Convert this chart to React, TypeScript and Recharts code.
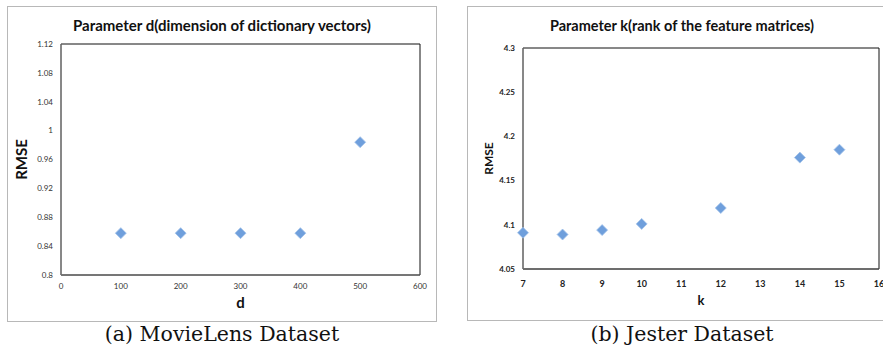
import React from "react";
import {
  ScatterChart, Scatter, XAxis, YAxis, ReferenceArea,
} from "recharts";

// ── MovieLens: parameter d ──
const dValues = [100, 200, 300, 400, 500];
const dRmse = [0.858, 0.858, 0.858, 0.858, 0.984];
const dXTicks = [0, 100, 200, 300, 400, 500, 600];
const dYTicks = [0.8, 0.84, 0.88, 0.92, 0.96, 1, 1.04, 1.08, 1.12];

// ── Jester: parameter k ──
const kValues = [7, 8, 9, 10, 12, 14, 15];
const kRmse = [4.091, 4.089, 4.094, 4.101, 4.119, 4.176, 4.185];
const kXTicks = [7, 8, 9, 10, 11, 12, 13, 14, 15, 16];
const kYTicks = [4.05, 4.1, 4.15, 4.2, 4.25, 4.3];

const movieData = dValues.map((d, i) => ({ x: d, y: dRmse[i] }));
const jesterData = kValues.map((k, i) => ({ x: k, y: kRmse[i] }));

const FONT = "Lato, 'Open Sans', sans-serif";
const MARK_FILL = "#6f9fdc";
const MARK_STROKE = "#a3c3ea";

// square diamond marker (Excel style), centred on the scaled point
function Diamond(props: any) {
  const { cx, cy } = props;
  const r = 5.5;
  return (
    <path
      d={`M${cx},${cy - r}L${cx + r},${cy}L${cx},${cy + r}L${cx - r},${cy}Z`}
      fill={MARK_FILL} stroke={MARK_STROKE} strokeWidth={0.8}
    />
  );
}

const titleStyle: React.CSSProperties = {
  position: "absolute", fontFamily: FONT, fontWeight: 700,
  color: "#111", textAlign: "center", whiteSpace: "nowrap",
};

const captionStyle: React.CSSProperties = {
  position: "absolute", top: 322, fontFamily: "'DejaVu Serif', 'Liberation Serif', serif",
  fontSize: 20.5, color: "#111", textAlign: "center", whiteSpace: "nowrap",
};

const bold = { fontWeight: 700, fontFamily: FONT };

export default function App() {
  return (
    <div style={{
      position: "absolute", left: 0, top: 0, width: 883, height: 349,
      overflow: "hidden", background: "#fff",
    }}>
      {/* panel frames */}
      <div style={{ position: "absolute", left: 7, top: 6, width: 428, height: 314, border: "1px solid #b8b8b8" }} />
      <div style={{ position: "absolute", left: 467, top: 6, width: 440, height: 313, border: "1px solid #b8b8b8" }} />

      {/* (a) MovieLens */}
      <div style={{ position: "absolute", left: 0, top: 0 }}>
        <ScatterChart width={440} height={349} margin={{ top: 44, right: 20, left: 0, bottom: 0 }}>
          <XAxis
            type="number" dataKey="x" domain={[0, 600]} ticks={dXTicks}
            height={74} axisLine={{ stroke: "#666" }} tickLine={false}
            tickSize={4} tickMargin={4}
            tick={{ fill: "#333", fontSize: 8, fontFamily: FONT }}
            label={{ value: "d", position: "insideTop", offset: 22, fill: "#111",
              fontSize: 15, style: bold }}
          />
          <YAxis
            type="number" dataKey="y" domain={[0.8, 1.12]} ticks={dYTicks}
            width={61} axisLine={{ stroke: "#888" }} tickLine={false}
            tickSize={4} tickMargin={4}
            tick={{ fill: "#333", fontSize: 8, fontFamily: FONT }}
            label={{ value: "RMSE", angle: -90, position: "insideLeft", offset: 22,
              fill: "#111", fontSize: 15,
              style: { ...bold, textAnchor: "middle" } }}
          />
          <ReferenceArea x1={0} x2={600} y1={0.8} y2={1.12} fill="none" stroke="#111" strokeWidth={1} ifOverflow="visible" />
          <Scatter data={movieData} shape={<Diamond />} isAnimationActive={false} legendType="none" />
        </ScatterChart>
      </div>
      <div style={{ ...titleStyle, top: 16, fontSize: 15, left: 7, width: 430 }}>
        Parameter d(dimension of dictionary vectors)
      </div>
      <div style={{ ...captionStyle, left: 7, width: 430 }}>(a) MovieLens Dataset</div>

      {/* (b) Jester */}
      <div style={{ position: "absolute", left: 440, top: 0 }}>
        <ScatterChart width={460} height={349} margin={{ top: 48, right: 21, left: 0, bottom: 0 }}>
          <XAxis
            type="number" dataKey="x" domain={[7, 16]} ticks={kXTicks}
            height={80} axisLine={{ stroke: "#555" }} tickLine={false}
            tickSize={4} tickMargin={8}
            tick={{ fill: "#222", fontSize: 9, fontWeight: 700, fontFamily: FONT }}
            label={{ value: "k", position: "insideTop", offset: 27, fill: "#111",
              fontSize: 13, style: bold }}
          />
          <YAxis
            type="number" dataKey="y" domain={[4.05, 4.3]} ticks={kYTicks}
            width={83} axisLine={{ stroke: "#888" }} tickLine={false}
            tickSize={4} tickMargin={4}
            tick={{ fill: "#222", fontSize: 8, fontWeight: 700, fontFamily: FONT }}
            label={{ value: "RMSE", angle: -90, position: "insideLeft", offset: 49,
              fill: "#111", fontSize: 12,
              style: { ...bold, textAnchor: "middle" } }}
          />
          <ReferenceArea x1={7} x2={16} y1={4.05} y2={4.3} fill="none" stroke="#111" strokeWidth={1} ifOverflow="visible" />
          <Scatter data={jesterData} shape={<Diamond />} isAnimationActive={false} legendType="none" />
        </ScatterChart>
      </div>
      <div style={{ ...titleStyle, top: 17, fontSize: 14.5, left: 467, width: 430 }}>
        Parameter k(rank of the feature matrices)
      </div>
      <div style={{ ...captionStyle, left: 467, width: 430 }}>(b) Jester Dataset</div>
    </div>
  );
}
